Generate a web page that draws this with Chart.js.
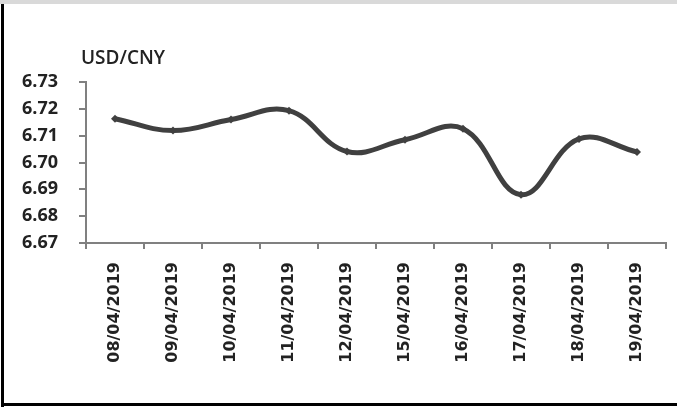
<!DOCTYPE html>
<html>
<head>
<meta charset="utf-8">
<script src="https://cdn.jsdelivr.net/npm/chart.js@4"></script>
<style>
  html, body { margin: 0; padding: 0; background: #fff; }
  #wrap { width: 677px; height: 408px; position: relative; }
</style>
</head>
<body>
<div id="wrap"><canvas id="myChart"></canvas></div>
<script>
// data
var dates = ['08/04/2019', '09/04/2019', '10/04/2019', '11/04/2019', '12/04/2019',
             '15/04/2019', '16/04/2019', '17/04/2019', '18/04/2019', '19/04/2019'];
var usdCny = [6.7163, 6.7119, 6.7160, 6.7193, 6.7041, 6.7085, 6.7126, 6.6880, 6.7088, 6.7039];
var yTicks = [6.67, 6.68, 6.69, 6.70, 6.71, 6.72, 6.73];
var unitLabel = 'USD/CNY';

// frame round the chart + the unit label above the y axis
var framePlugin = {
    id: 'frame',
    beforeDraw: function(chart) {
        var c = chart.ctx;
        c.save();
        c.fillStyle = '#fff';
        c.fillRect(0, 0, chart.width, chart.height);
        c.fillStyle = '#d9d9d9';
        c.fillRect(0, 0, chart.width, 4);
        c.fillStyle = '#000';
        c.fillRect(1, 4, 3, chart.height - 5);
        c.fillRect(1, 403, chart.width - 1, 3);
        c.restore();
    },
    afterDraw: function(chart) {
        var c = chart.ctx;
        c.save();
        c.fillStyle = '#222';
        c.font = '600 19px "Open Sans"';
        c.textBaseline = 'alphabetic';
        c.fillText(unitLabel, 81, 64);
        c.restore();
    }
};

var ctx = document.getElementById('myChart');
var myChart = new Chart(ctx, {
    type: 'line',
    data: {
        labels: dates,
        datasets: [{
            label: unitLabel,
            data: usdCny,
            borderColor: '#404040',
            backgroundColor: '#404040',
            borderWidth: 5,
            tension: 0.4,
            pointStyle: 'rectRot',
            pointRadius: 4,
            pointBorderWidth: 0,
            fill: false
        }] // datasets
    },
    options: {
        responsive: true,
        maintainAspectRatio: false,
        animation: false,
        devicePixelRatio: 1,
        layout: { padding: { top: 82, right: 11, bottom: 0, left: 0 } },
        plugins: {
            legend: { display: false },
            tooltip: { enabled: false }
        },
        scales: {
            x: {
                type: 'category',
                offset: true,
                afterFit: function(scale) { scale.height = 165; },
                border: { color: '#808080', width: 2 },
                grid: {
                    offset: true,
                    drawOnChartArea: false,
                    color: '#808080',
                    lineWidth: 2,
                    tickLength: 6
                },
                ticks: {
                    color: '#222',
                    font: { family: 'DejaVu Sans', size: 16, weight: 'bold' },
                    minRotation: 90,
                    maxRotation: 90,
                    padding: 13,
                    autoSkip: false
                }
            },
            y: {
                min: 6.67,
                max: 6.73,
                afterFit: function(scale) { scale.width = 86; },
                afterBuildTicks: function(scale) {
                    scale.ticks = yTicks.map(function(v) { return { value: v }; });
                },
                border: { color: '#808080', width: 2 },
                grid: {
                    drawOnChartArea: false,
                    color: '#808080',
                    lineWidth: 2,
                    tickLength: 7
                },
                ticks: {
                    color: '#222',
                    font: { family: 'Open Sans', size: 18, weight: 'bold' },
                    padding: 21,
                    callback: function(v) { return Number(v).toFixed(2); }
                }
            }
        }
    },
    plugins: [framePlugin]
}); // myChart
</script>
</body>
</html>
